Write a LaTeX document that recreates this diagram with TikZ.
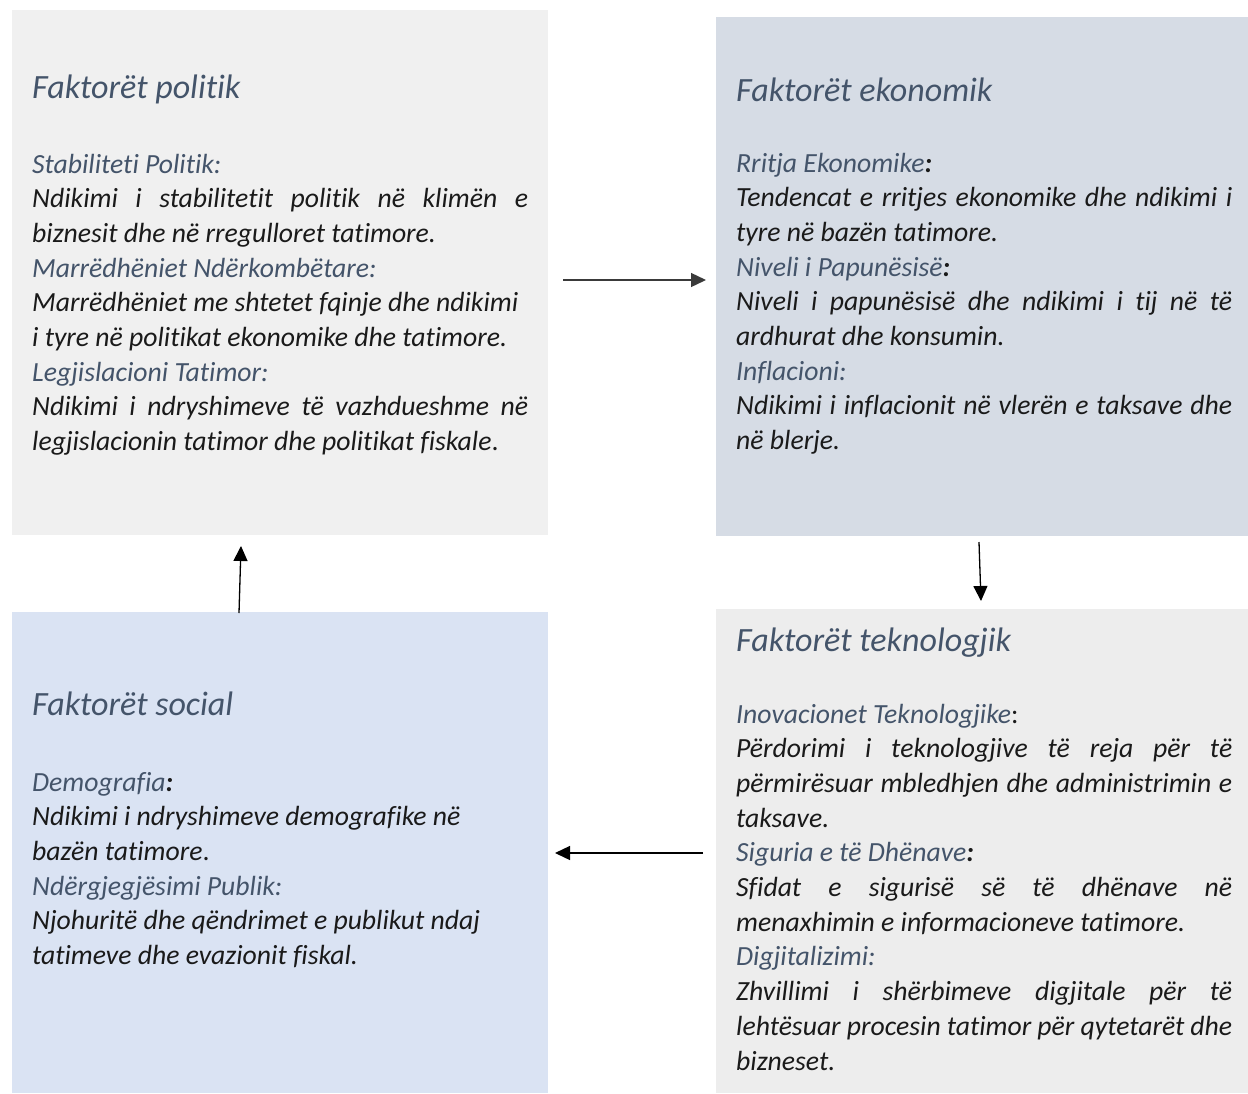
\documentclass[tikz,border=0pt]{standalone}
\usepackage{fontspec}
\setmainfont{Carlito}[Ligatures={NoCommon,NoContextual}]
\usetikzlibrary{arrows.meta}
\definecolor{boxA}{HTML}{F0F0F0}
\definecolor{boxB}{HTML}{D6DCE5}
\definecolor{boxC}{HTML}{EDEDED}
\definecolor{boxD}{HTML}{DAE3F3}
\definecolor{headc}{HTML}{44546A}
\definecolor{bodyc}{HTML}{1A1A1A}
\definecolor{arrA}{HTML}{3A3A3A}
\newcommand\TLine[5][txt]{\node[#1] (#2) at (#3,#4) {#5};}
\newcommand\JL[1]{\makebox[496pt][s]{#1}}
\newcommand\BC{{\color{bodyc}\bfseries :}}
\tikzset{
  panel/.style={draw=none, inner sep=0pt, anchor=north west},
  txt/.style={anchor=base west, inner sep=0pt, text=bodyc, font=\itshape\fontsize{27.7}{34.6}\selectfont},
  sub/.style={txt, text=headc},
  head/.style={anchor=base west, inner sep=0pt, text=headc, font=\itshape\fontsize{34}{42}\selectfont},
  arr/.style={line width=1.3pt, -{Triangle[length=15pt,width=14pt]}}
}
\begin{document}
\begin{tikzpicture}[x=1pt,y=-1pt]
\useasboundingbox (0,0) rectangle (1248,1093);
% panels
\node[panel, fill=boxA, minimum width=536pt, minimum height=525pt] (b1) at (12,10) {};
\node[panel, fill=boxB, minimum width=532pt, minimum height=519pt] (b2) at (716,17) {};
\node[panel, fill=boxC, minimum width=532pt, minimum height=484pt] (b3) at (716,609) {};
\node[panel, fill=boxD, minimum width=536pt, minimum height=481pt] (b4) at (12,612) {};
% panel 1
\TLine[head]{h1}{32}{98}{Faktorët politik}
\TLine[sub]{p1a}{32}{173}{Stabiliteti Politik:}
\TLine{p1b}{32}{207.7}{\JL{Ndikimi i stabilitetit politik në klimën e}}
\TLine{p1c}{32}{242.4}{biznesit dhe në rregulloret tatimore.}
\TLine[sub]{p1d}{32}{277.1}{Marrëdhëniet Ndërkombëtare:}
\TLine{p1e}{32}{311.8}{Marrëdhëniet me shtetet fqinje dhe ndikimi}
\TLine{p1f}{32}{346.5}{i tyre në politikat ekonomike dhe tatimore.}
\TLine[sub]{p1g}{32}{381.2}{Legjislacioni Tatimor:}
\TLine{p1h}{32}{415.9}{\JL{Ndikimi i ndryshimeve të vazhdueshme në}}
\TLine{p1i}{32}{450.6}{legjislacionin tatimor dhe politikat fiskale{\upshape .}}
% panel 2
\TLine[head]{h2}{736}{101}{Faktorët ekonomik}
\TLine[sub]{p2a}{736}{172}{Rritja Ekonomike\BC}
\TLine{p2b}{736}{206.7}{\JL{Tendencat e rritjes ekonomike dhe ndikimi i}}
\TLine{p2c}{736}{241.4}{tyre në bazën tatimore.}
\TLine[sub]{p2d}{736}{276.1}{Niveli i Papunësisë\BC}
\TLine{p2e}{736}{310.8}{\JL{Niveli i papunësisë dhe ndikimi i tij në të}}
\TLine{p2f}{736}{345.5}{ardhurat dhe konsumin.}
\TLine[sub]{p2g}{736}{380.2}{Inflacioni:}
\TLine{p2h}{736}{414.9}{\JL{Ndikimi i inflacionit në vlerën e taksave dhe}}
\TLine{p2i}{736}{449.6}{në blerje.}
% panel 3
\TLine[head]{h3}{736}{651}{Faktorët teknologjik}
\TLine[sub]{p3a}{736}{723}{Inovacionet Teknologjike{\upshape\color{bodyc}:}}
\TLine{p3b}{736}{757.7}{\JL{Përdorimi i teknologjive të reja për të}}
\TLine{p3c}{736}{792.4}{\JL{përmirësuar mbledhjen dhe administrimin e}}
\TLine{p3d}{736}{827.1}{taksave.}
\TLine[sub]{p3e}{736}{861.8}{Siguria e të Dhënave\BC}
\TLine{p3f}{736}{896.5}{\JL{Sfidat e sigurisë së të dhënave në}}
\TLine{p3g}{736}{931.2}{menaxhimin e informacioneve tatimore.}
\TLine[sub]{p3h}{736}{965.9}{Digjitalizimi:}
\TLine{p3i}{736}{1000.6}{\JL{Zhvillimi i shërbimeve digjitale për të}}
\TLine{p3j}{736}{1035.3}{\JL{lehtësuar procesin tatimor për qytetarët dhe}}
\TLine{p3k}{736}{1070}{bizneset.}
% panel 4
\TLine[head]{h4}{32}{715}{Faktorët social}
\TLine[sub]{p4a}{32}{791}{Demografia\BC}
\TLine{p4b}{32}{825.7}{Ndikimi i ndryshimeve demografike në}
\TLine{p4c}{32}{860.4}{bazën tatimore{\upshape .}}
\TLine[sub]{p4d}{32}{895.1}{Ndërgjegjësimi Publik:}
\TLine{p4e}{32}{929.8}{Njohuritë dhe qëndrimet e publikut ndaj}
\TLine{p4f}{32}{964.5}{tatimeve dhe evazionit fiskal.}
% arrows
\coordinate (a1s) at (563,280);
\coordinate (a1e) at (706,280);
\coordinate (a2s) at (979,542);
\coordinate (a2e) at (981,601);
\coordinate (a3s) at (703,853);
\coordinate (a3e) at (555,853);
\coordinate (a4s) at (239,613);
\coordinate (a4e) at (241,546);
\draw[arr, draw=arrA, fill=arrA] (a1s) -- (a1e);
\draw[arr] (a2s) -- (a2e);
\draw[arr] (a3s) -- (a3e);
\draw[arr] (a4s) -- (a4e);
\end{tikzpicture}
\end{document}
